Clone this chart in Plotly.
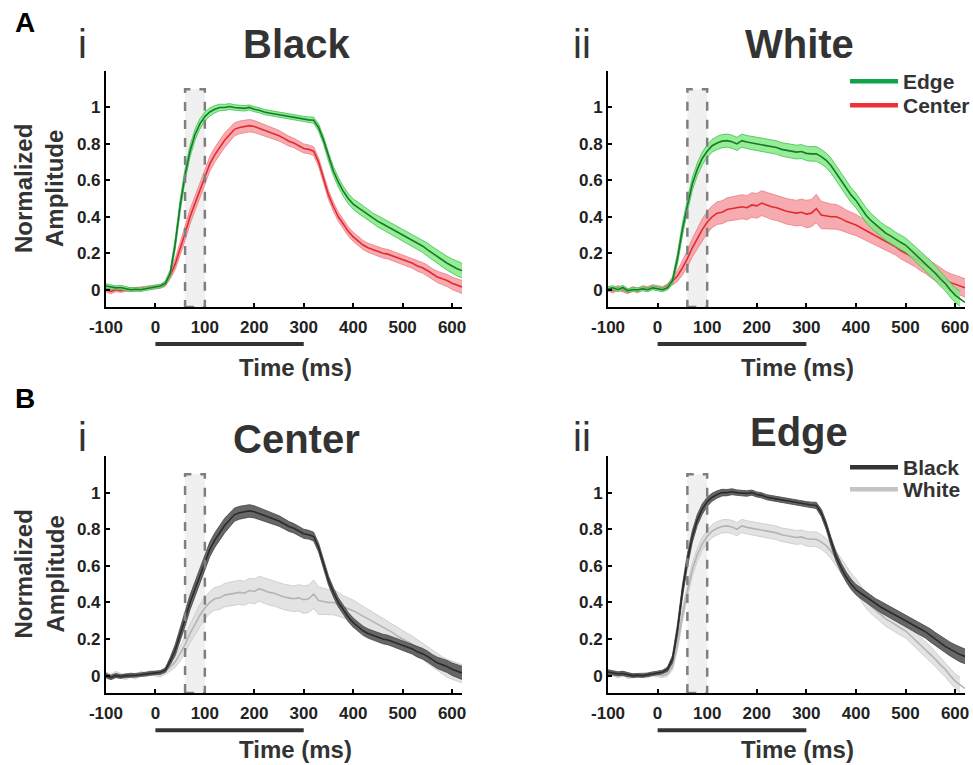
import plotly.graph_objects as go

# ---------------- data ----------------
time_ms = list(range(-100, 621, 10))  # 73 samples

black_edge = [0.02, 0.015, 0.01, 0.012, 0.005, 0.0, 0.002, 0.0, 0.005, 0.01, 0.015, 0.02, 0.035,
              0.09, 0.25, 0.46, 0.63, 0.76, 0.85, 0.91, 0.95,
              0.975, 0.99, 1.0, 1.0, 1.005, 1.0, 0.998, 0.995, 1.0, 0.99, 0.985, 0.975, 0.97, 0.965,
              0.96, 0.955, 0.95, 0.945, 0.94, 0.935, 0.932, 0.93,
              0.89, 0.82, 0.73, 0.65, 0.59, 0.54, 0.50, 0.47, 0.45, 0.43, 0.41, 0.39, 0.375, 0.36,
              0.345, 0.33, 0.315, 0.30, 0.285, 0.27, 0.255, 0.24, 0.22, 0.20, 0.18, 0.16, 0.145,
              0.13, 0.115, 0.105]
black_edge_sem = [0.012, 0.012, 0.011, 0.012, 0.01, 0.01, 0.01, 0.01, 0.01, 0.01, 0.01, 0.01, 0.012,
                  0.02, 0.03, 0.035, 0.035, 0.032, 0.03, 0.028, 0.025,
                  0.022, 0.02, 0.018, 0.017, 0.016, 0.015, 0.015, 0.015, 0.014, 0.014, 0.014, 0.014,
                  0.014, 0.014, 0.014, 0.015, 0.015, 0.015, 0.015, 0.016, 0.016, 0.017,
                  0.02, 0.022, 0.024, 0.025, 0.026, 0.027, 0.028, 0.028, 0.03, 0.03, 0.03, 0.03,
                  0.031, 0.031, 0.032, 0.032, 0.033, 0.033, 0.034, 0.034, 0.035, 0.035, 0.036,
                  0.036, 0.037, 0.038, 0.038, 0.039, 0.04, 0.04]

black_center = [0.0, -0.01, 0.0, -0.005, 0.0, 0.0, 0.002, 0.005, 0.01, 0.012, 0.015, 0.018, 0.03,
                0.08, 0.14, 0.22, 0.31, 0.40, 0.47, 0.55, 0.62,
                0.69, 0.74, 0.78, 0.82, 0.85, 0.88, 0.89, 0.895, 0.90, 0.895, 0.885, 0.875, 0.865,
                0.855, 0.845, 0.83, 0.815, 0.805, 0.79, 0.775, 0.77, 0.76,
                0.70, 0.61, 0.52, 0.455, 0.40, 0.36, 0.32, 0.29, 0.265, 0.245, 0.23, 0.22, 0.21,
                0.20, 0.195, 0.185, 0.175, 0.165, 0.155, 0.145, 0.13, 0.12, 0.105, 0.085, 0.07,
                0.06, 0.05, 0.035, 0.025, 0.015]
black_center_sem = [0.012, 0.012, 0.011, 0.01, 0.01, 0.01, 0.01, 0.01, 0.01, 0.01, 0.01, 0.01, 0.012,
                    0.02, 0.03, 0.035, 0.04, 0.04, 0.04, 0.04, 0.04,
                    0.04, 0.04, 0.04, 0.04, 0.038, 0.036, 0.035, 0.035, 0.034, 0.033, 0.032, 0.03,
                    0.03, 0.03, 0.029, 0.028, 0.027, 0.026, 0.025, 0.025, 0.024, 0.024,
                    0.024, 0.025, 0.025, 0.025, 0.025, 0.025, 0.025, 0.025, 0.025, 0.025, 0.025,
                    0.025, 0.025, 0.026, 0.026, 0.026, 0.027, 0.027, 0.028, 0.028, 0.029, 0.029,
                    0.03, 0.03, 0.031, 0.032, 0.033, 0.034, 0.035, 0.036]

white_edge = [0.005, 0.01, 0.0, 0.012, -0.005, 0.0, 0.0, 0.005, 0.0, 0.01, 0.005, 0.0, 0.01,
              0.05, 0.17, 0.33, 0.46, 0.58, 0.66, 0.72, 0.76,
              0.79, 0.805, 0.815, 0.818, 0.812, 0.80, 0.818, 0.81, 0.805, 0.80, 0.795, 0.79, 0.785,
              0.78, 0.77, 0.765, 0.758, 0.755, 0.758, 0.748, 0.745, 0.745,
              0.73, 0.71, 0.68, 0.64, 0.60, 0.56, 0.52, 0.49, 0.45, 0.41, 0.38, 0.355, 0.33, 0.31,
              0.295, 0.275, 0.26, 0.245, 0.22, 0.195, 0.17, 0.145, 0.12, 0.09, 0.06, 0.035, 0.0,
              -0.03, -0.05, -0.07]
white_edge_sem = [0.012, 0.012, 0.012, 0.012, 0.011, 0.011, 0.011, 0.011, 0.011, 0.011, 0.011, 0.011, 0.012,
                  0.02, 0.03, 0.035, 0.035, 0.035, 0.035, 0.035, 0.035,
                  0.035, 0.036, 0.036, 0.036, 0.036, 0.036, 0.036, 0.036, 0.036, 0.036, 0.036,
                  0.037, 0.037, 0.037, 0.037, 0.038, 0.038, 0.038, 0.038, 0.039, 0.04, 0.04,
                  0.04, 0.04, 0.041, 0.04, 0.039, 0.04, 0.041, 0.04, 0.04, 0.041, 0.04, 0.039, 0.04,
                  0.04, 0.041, 0.04, 0.04, 0.039, 0.04, 0.041, 0.04, 0.04, 0.041, 0.04, 0.04, 0.041,
                  0.04, 0.04, 0.041]

white_center = [0.005, -0.005, 0.01, 0.0, -0.01, 0.005, -0.005, 0.01, 0.005, 0.015, 0.01, 0.005, 0.02,
                0.045, 0.075, 0.12, 0.17, 0.23, 0.28, 0.33, 0.37,
                0.40, 0.42, 0.425, 0.44, 0.445, 0.45, 0.455, 0.45, 0.465, 0.46, 0.475, 0.465, 0.455,
                0.45, 0.44, 0.43, 0.425, 0.42, 0.425, 0.415, 0.42, 0.445,
                0.41, 0.405, 0.40, 0.40, 0.39, 0.375, 0.365, 0.355, 0.34, 0.325, 0.31, 0.295, 0.28,
                0.265, 0.25, 0.235, 0.215, 0.20, 0.185, 0.17, 0.15, 0.135, 0.115, 0.095, 0.075,
                0.055, 0.04, 0.03, 0.02, 0.01]
white_center_sem = [0.014, 0.013, 0.013, 0.012, 0.012, 0.012, 0.012, 0.012, 0.012, 0.012, 0.012, 0.012, 0.013,
                    0.02, 0.03, 0.04, 0.045, 0.05, 0.055, 0.058, 0.06,
                    0.06, 0.062, 0.063, 0.064, 0.065, 0.065, 0.066, 0.066, 0.067, 0.068, 0.068,
                    0.069, 0.07, 0.07, 0.07, 0.07, 0.07, 0.07, 0.072, 0.075, 0.075, 0.078,
                    0.075, 0.072, 0.07, 0.068, 0.065, 0.062, 0.06, 0.058, 0.056, 0.054, 0.052, 0.05,
                    0.048, 0.047, 0.046, 0.045, 0.045, 0.045, 0.045, 0.045, 0.046, 0.046, 0.047,
                    0.047, 0.048, 0.048, 0.049, 0.05, 0.05, 0.05]

x_ticks = [-100, 0, 100, 200, 300, 400, 500, 600]
x_ticklabels = ["-100", "0", "100", "200", "300", "400", "500", "600"]
y_ticks = [0, 0.2, 0.4, 0.6, 0.8, 1]
y_ticklabels = ["0", "0.2", "0.4", "0.6", "0.8", "1"]
window_ms = [60, 100]
stimulus_ms = [0, 300]

panel_titles = ["Black", "White", "Center", "Edge"]
panel_numerals = ["i", "ii", "i", "ii"]
legend_names = ["Edge", "Center", "Black", "White"]

# ---------------- styling ----------------
FONT = "Liberation Sans, Arial, sans-serif"
TXT = "#333333"
styles = {
    "edge":   dict(line="#17792c", fill="rgba(130,234,130,0.85)", edge="#3cc053", legend="#0fa34a"),
    "center": dict(line="#e42a30", fill="rgba(242,150,155,0.8)", edge="#f07a80", legend="#ee3338"),
    "black":  dict(line="#2b2b2b", fill="rgba(95,95,95,0.95)", edge="#444444", legend="#333333"),
    "white":  dict(line="#b4b4b4", fill="rgba(215,215,215,0.7)", edge="#c8c8c8", legend="#c4c4c4"),
}

fig = go.Figure()

def add_band(mean, sem, st, xa, ya):
    lo = [m - s for m, s in zip(mean, sem)]
    hi = [m + s for m, s in zip(mean, sem)]
    fig.add_trace(go.Scatter(x=time_ms, y=lo, mode="lines", line=dict(color=st["edge"], width=0.8),
                             xaxis=xa, yaxis=ya, showlegend=False, hoverinfo="skip"))
    fig.add_trace(go.Scatter(x=time_ms, y=hi, mode="lines", line=dict(color=st["edge"], width=0.8),
                             fill="tonexty", fillcolor=st["fill"],
                             xaxis=xa, yaxis=ya, showlegend=False, hoverinfo="skip"))
    fig.add_trace(go.Scatter(x=time_ms, y=mean, mode="lines", line=dict(color=st["line"], width=1.6),
                             xaxis=xa, yaxis=ya, showlegend=False))

panels = [
    ("x", "y", [(black_center, black_center_sem, "center"), (black_edge, black_edge_sem, "edge")]),
    ("x2", "y2", [(white_center, white_center_sem, "center"), (white_edge, white_edge_sem, "edge")]),
    ("x3", "y3", [(white_center, white_center_sem, "white"), (black_center, black_center_sem, "black")]),
    ("x4", "y4", [(white_edge, white_edge_sem, "white"), (black_edge, black_edge_sem, "black")]),
]
for xa, ya, series in panels:
    for mean, sem, key in series:
        add_band(mean, sem, styles[key], xa, ya)

# legend entries (one legend box per entry so each row can be placed like the reference)
legend_keys = ["edge", "center", "black", "white"]
legend_ids = ["legend", "legend2", "legend3", "legend4"]
legend_tops = [61, 85, 447, 469]   # pixel tops of the legend boxes
for name, key, lg in zip(legend_names, legend_keys, legend_ids):
    on_top = lg in ("legend", "legend2")
    fig.add_trace(go.Scatter(x=[None], y=[None], mode="lines", name=name,
                             line=dict(color=styles[key]["legend"], width=4.5),
                             xaxis="x2" if on_top else "x4", yaxis="y2" if on_top else "y4",
                             legend=lg, showlegend=True))

xdoms = [[0.1089, 0.4748], [0.6249, 0.9918]]
ydoms = [[0.5987, 0.9072], [0.0941, 0.4039]]

axis_common_x = dict(range=[-100, 620], tickvals=x_ticks, ticktext=x_ticklabels, ticks="inside",
                     ticklen=4, tickwidth=1.5, automargin=False, ticklabelstandoff=4,
                     tickcolor="black", showline=True, linecolor="black", linewidth=2,
                     showgrid=False, zeroline=False,
                     tickfont=dict(family=FONT, size=17, color="#222222", weight="bold"))
axis_common_y = dict(range=[-0.095, 1.2], tickvals=y_ticks, ticktext=y_ticklabels, ticks="inside",
                     ticklen=4, tickwidth=1.5, tickcolor="black", showline=True, linecolor="black",
                     linewidth=2, showgrid=False, zeroline=False, automargin=False,
                     tickfont=dict(family=FONT, size=17, color="#222222", weight="bold"))

layout_axes = {}
for i in range(4):
    sfx = "" if i == 0 else str(i + 1)
    col, row = i % 2, i // 2
    layout_axes["xaxis" + sfx] = dict(axis_common_x, domain=xdoms[col], anchor="y" + sfx)
    layout_axes["yaxis" + sfx] = dict(axis_common_y, domain=ydoms[row], anchor="x" + sfx)

fig.update_layout(**layout_axes)

title_y = [1.114, 1.114, 1.07, 1.103]
numeral_y = [1.114, 1.114, 1.082, 1.082]
xtitle_y = [-0.258, -0.258, -0.24, -0.24]

shapes = []
annotations = []
for i in range(4):
    sfx = "" if i == 0 else str(i + 1)
    xr, yr = "x" + sfx, "y" + sfx
    # analysis window box (fill below, dashed frame above)
    shapes.append(dict(type="rect", xref=xr, yref=yr, x0=window_ms[0], x1=window_ms[1], y0=-0.095, y1=1.1,
                       fillcolor="#f0f0f0", line=dict(width=0), layer="below"))
    shapes.append(dict(type="rect", xref=xr, yref=yr, x0=window_ms[0], x1=window_ms[1], y0=-0.095, y1=1.1,
                       fillcolor="rgba(0,0,0,0)", line=dict(color="#7f7f7f", width=2.5, dash="dash"),
                       layer="above"))
    # stimulus bar
    shapes.append(dict(type="line", xref=xr, yref=yr + " domain", x0=stimulus_ms[0], x1=stimulus_ms[1],
                       y0=-0.157, y1=-0.157, line=dict(color="#333333", width=4)))
    # x title
    annotations.append(dict(text="Time (ms)", xref=xr + " domain", yref=yr + " domain", x=0.531, y=xtitle_y[i],
                            showarrow=False, xanchor="center", yanchor="middle",
                            font=dict(family=FONT, size=24, color=TXT, weight="bold")))
    # panel title
    annotations.append(dict(text=panel_titles[i], xref=xr + " domain", yref=yr + " domain", x=0.535,
                            y=title_y[i], showarrow=False, xanchor="center", yanchor="middle",
                            font=dict(family=FONT, size=40, color=TXT, weight="bold")))
    # numeral
    annotations.append(dict(text=panel_numerals[i], xref=xr + " domain", yref=yr + " domain",
                            x=-0.065 if i % 2 == 0 else -0.073, y=numeral_y[i], showarrow=False,
                            xanchor="center", yanchor="middle",
                            font=dict(family=FONT, size=40, color=TXT)))
    if i % 2 == 0:
        annotations.append(dict(text="Normalized<br>Amplitude", xref="paper", yref=yr + " domain",
                                x=39 / 973, y=0.5, showarrow=False, textangle=-90,
                                xanchor="center", yanchor="middle",
                                font=dict(family=FONT, size=24, color=TXT, weight="bold")))

annotations.append(dict(text="A", xref="paper", yref="paper", x=25 / 973, y=1 - 22 / 765, showarrow=False,
                        xanchor="center", yanchor="middle", font=dict(family=FONT, size=28, color="black", weight="bold")))
annotations.append(dict(text="B", xref="paper", yref="paper", x=25 / 973, y=1 - 398 / 765, showarrow=False,
                        xanchor="center", yanchor="middle", font=dict(family=FONT, size=28, color="black", weight="bold")))

legend_layout = {}
for lg, top in zip(legend_ids, legend_tops):
    legend_layout[lg] = dict(x=845 / 973, y=1 - top / 765, xanchor="left", yanchor="top",
                             bgcolor="rgba(0,0,0,0)", itemwidth=48, traceorder="normal",
                             font=dict(family=FONT, size=21, color=TXT, weight="bold"))

fig.update_layout(
    width=973, height=765, margin=dict(l=0, r=0, t=0, b=0, autoexpand=False),
    paper_bgcolor="white", plot_bgcolor="white",
    shapes=shapes, annotations=annotations,
    **legend_layout,
)

fig.write_html("out.html", config={"displayModeBar": False},
               post_script="document.body.style.margin='0';document.body.style.padding='0';")
